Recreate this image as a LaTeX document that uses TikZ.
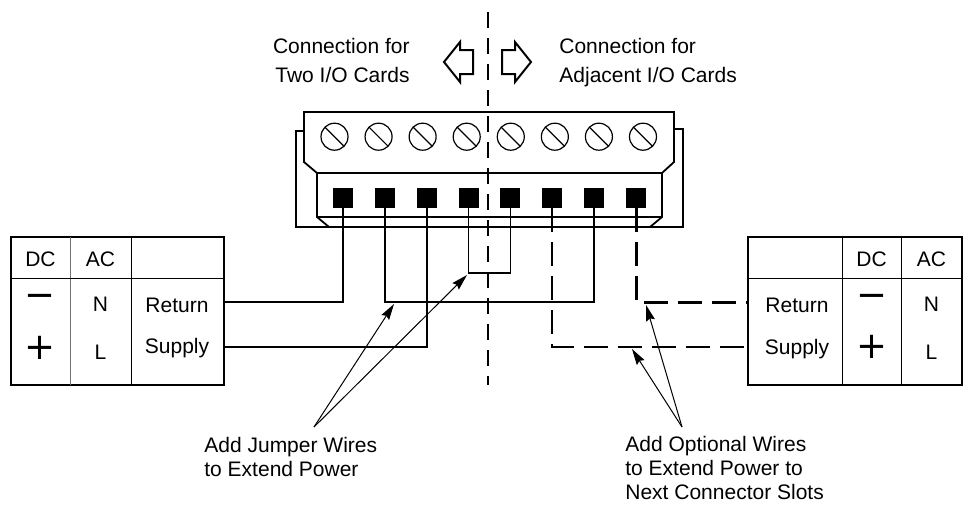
\documentclass[tikz,border=0pt]{standalone}
\usepackage{fontspec}
\setmainfont{Liberation Sans}
\newfontfamily\signfont{DejaVu Sans}
\usetikzlibrary{arrows.meta}

\begin{document}
\begin{tikzpicture}[x=0.5pt,y=-0.5pt,
        txt/.style={font=\fontsize{10.5}{12}\selectfont, inner sep=0pt},
        toptxt/.style={font=\fontsize{10.5}{14.5}\selectfont, inner sep=0pt},
        sign/.style={font=\signfont\fontsize{18.5}{18.5}\selectfont, inner sep=0pt},
        pin/.style={rectangle, fill=black, minimum size=10pt, inner sep=0pt},
        wire/.style={line width=0.9pt},
        heavywire/.style={line width=1.4pt},
        optwire/.style={line width=1.1pt, dash pattern=on 12pt off 5pt},
        pointer/.style={line width=0.5pt, -{Stealth[length=8pt,width=4.5pt,inset=1pt]}},
        body/.style={line width=0.9pt, line join=miter},
        frame/.style={line width=1pt},
        cell/.style={line width=0.5pt}]
        \useasboundingbox (0,0) rectangle (970,504);

        \draw[body] (304,112) -- (674,112) -- (674,162) -- (662,173) -- (317,173) -- (304,162) -- cycle;
        \draw[body] (317,173) -- (317,217) -- (329,227);
        \draw[body] (662,173) -- (662,217) -- (650,227);
        \draw[body] (317,217) -- (662,217);
        \draw[line width=0.7pt] (304,131) -- (296,131) -- (296,227) -- (683,227) -- (683,129) -- (674,129);

        \foreach \i in {0,...,7} {
                \draw[line width=0.6pt] (334.5+44.07*\i,136.7) circle (6.75pt);
                \draw[line width=0.6pt] (334.5+44.07*\i,136.7) ++(135:6.75pt) -- ++(-45:13.5pt);
        }
        \foreach \i in {1,...,8}
                \node[pin] (t\i) at (301.14+41.86*\i,198) {};

        \draw[line width=0.6pt, dash pattern=on 8pt off 5pt] (488,12) -- (488,385);

        \draw[line width=1pt, line join=miter] (444,62) -- (460,42) -- (460,50) -- (473,50) -- (473,74) -- (460,74) -- (460,82) -- cycle;
        \draw[line width=1pt, line join=miter] (531,62) -- (515,42) -- (515,50) -- (502,50) -- (502,74) -- (515,74) -- (515,82) -- cycle;
        \node[toptxt, align=right, anchor=base east] (twocards) at (410,82) {Connection for\\Two I/O Cards};
        \node[toptxt, align=left, anchor=base west] (adjcards) at (559,82) {Connection for\\Adjacent I/O Cards};

        \draw[frame] (11,237) rectangle (224,385);
        \draw[cell, black!55] (70,237) -- (70,385);
        \draw[cell] (131,237) -- (131,385);
        \draw[cell] (11,278) -- (224,278);
        \node[txt, anchor=base] (ldc) at (40.5,266) {DC};
        \node[txt, anchor=base] (lac) at (100.5,266) {AC};
        \node[sign] (lminus) at (40.5,301) {−};
        \node[txt, anchor=base] (ln) at (100.5,311) {N};
        \node[txt, anchor=base] (lret) at (177,312) {Return};
        \node[sign] (lplus) at (40.5,348) {+};
        \node[txt, anchor=base] (ll) at (100.5,359) {L};
        \node[txt, anchor=base] (lsup) at (177,353) {Supply};

        \draw[frame] (748,237) rectangle (962,385);
        \draw[cell] (842,237) -- (842,385);
        \draw[cell] (901,237) -- (901,385);
        \draw[cell] (748,278) -- (962,278);
        \node[txt, anchor=base] (rdc) at (871.5,266) {DC};
        \node[txt, anchor=base] (rac) at (931.5,266) {AC};
        \node[txt, anchor=base] (rret) at (797,312) {Return};
        \node[sign] (rminus) at (871.5,301) {−};
        \node[txt, anchor=base] (rn) at (931.5,311) {N};
        \node[txt, anchor=base] (rsup) at (797,354) {Supply};
        \node[sign] (rplus) at (871.5,347) {+};
        \node[txt, anchor=base] (rl) at (931.5,359) {L};

        \coordinate (lreturn) at (224,302);
        \coordinate (lsupply) at (224,347);
        \coordinate (rreturn) at (748,302);
        \coordinate (rsupply) at (748,347);
        \coordinate (bridge) at (489,273);

        \draw[heavywire] (t1) |- (lreturn);
        \draw[wire] (t2) |- (t7 |- lreturn) -- (t7);
        \draw[wire] (t3) |- (lsupply);
        \draw[wire] (t4) |- (bridge) -| (t5);
        \draw[optwire] (t6) |- (rsupply);
        \draw[optwire, line width=1.5pt] (t8) |- (rreturn);

        \node[txt, align=left, anchor=base west] (jumpernote) at (204,476) {Add Jumper Wires\\to Extend Power};
        \node[txt, align=left, anchor=base west] (optnote) at (625,499) {Add Optional Wires\\to Extend Power to\\Next Connector Slots};

        \coordinate (japex) at (314,427);
        \coordinate (jtip1) at (394,304);
        \coordinate (jtip2) at (467,275);
        \coordinate (oapex) at (682,427);
        \coordinate (otip1) at (646,305);
        \coordinate (otip2) at (632,349);
        \draw[pointer] (japex) -- (jtip1);
        \draw[pointer] (japex) -- (jtip2);
        \draw[pointer] (oapex) -- (otip1);
        \draw[pointer] (oapex) -- (otip2);

\end{tikzpicture}
\end{document}
